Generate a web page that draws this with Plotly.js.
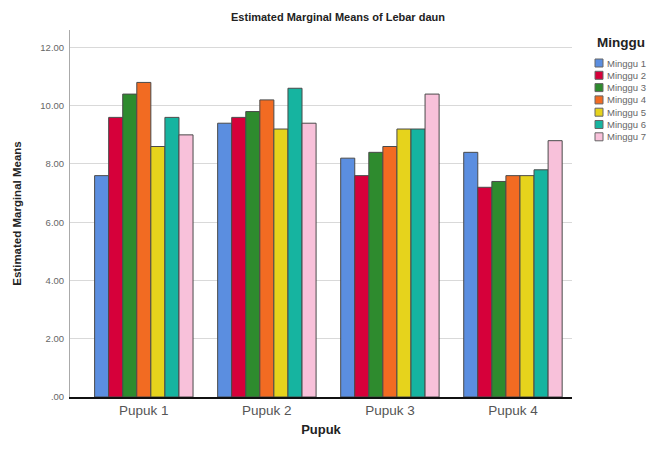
<!DOCTYPE html>
<html>
<head>
<meta charset="utf-8">
<script src="https://cdn.plot.ly/plotly-3.0.1.min.js"></script>
<style>html,body{margin:0;padding:0;background:#fff;}#chart{width:654px;height:449px;}</style>
</head>
<body>
<div id="chart"></div>
<script>
var categories = ["Pupuk 1", "Pupuk 2", "Pupuk 3", "Pupuk 4"];
var seriesNames = ["Minggu 1", "Minggu 2", "Minggu 3", "Minggu 4", "Minggu 5", "Minggu 6", "Minggu 7"];
var minggu1 = [7.6, 9.4, 8.2, 8.4];
var minggu2 = [9.6, 9.6, 7.6, 7.2];
var minggu3 = [10.4, 9.8, 8.4, 7.4];
var minggu4 = [10.8, 10.2, 8.6, 7.6];
var minggu5 = [8.6, 9.2, 9.2, 7.6];
var minggu6 = [9.6, 10.6, 9.2, 7.8];
var minggu7 = [9.0, 9.4, 10.4, 8.8];
var tickValues = [0, 2, 4, 6, 8, 10, 12];
var tickLabels = [".00", "2.00", "4.00", "6.00", "8.00", "10.00", "12.00"];
var legendTitle = "Minggu";

var seriesValues = [minggu1, minggu2, minggu3, minggu4, minggu5, minggu6, minggu7];
var colors = ["#5b8ee0", "#d6003a", "#2e8b2e", "#f26b22", "#e6d31c", "#16b4a0", "#f8c1da"];

// plot-area geometry (pixels)
var W = 654, H = 449, L = 70, R = 82, T = 30, B = 52;
var PW = W - L - R, PH = H - T - B;
function px2x(px) { return (px - L) / PW; }
function py2y(py) { return (H - B - py) / PH; }

var data = seriesValues.map(function(v, i) {
  return {
    type: "bar",
    name: seriesNames[i],
    x: categories,
    y: v,
    marker: {color: colors[i], line: {color: "#4a4a4a", width: 1}},
    hoverinfo: "x+y+name",
    showlegend: false
  };
});

// hand-drawn legend (compact, like the reference)
var shapes = [];
var annotations = [];
annotations.push({
  xref: "paper", yref: "paper", x: px2x(621), y: py2y(43),
  xanchor: "center", yanchor: "middle", showarrow: false,
  text: "<b>" + legendTitle + "</b>", font: {size: 13.5, color: "#222"}
});
seriesNames.forEach(function(name, i) {
  var cy = 63 + i * 12.3;
  shapes.push({
    type: "rect", xref: "paper", yref: "paper",
    x0: px2x(595), x1: px2x(603), y0: py2y(cy + 4), y1: py2y(cy - 4),
    fillcolor: colors[i], line: {color: "#666", width: 1}
  });
  annotations.push({
    xref: "paper", yref: "paper", x: px2x(605), y: py2y(cy),
    xanchor: "left", yanchor: "middle", showarrow: false,
    text: name, font: {size: 9.5, color: "#666"}
  });
});

var layout = {
  width: W,
  height: H,
  margin: {l: L, r: R, t: T, b: B, autoexpand: false},
  paper_bgcolor: "#ffffff",
  plot_bgcolor: "#ffffff",
  font: {family: "Arial, Liberation Sans, sans-serif", color: "#333"},
  title: {
    text: "<b>Estimated Marginal Means of Lebar daun</b>",
    font: {size: 11, color: "#222"},
    xref: "paper", x: px2x(338), xanchor: "center",
    yref: "container", y: 1 - 17 / H, yanchor: "middle"
  },
  barmode: "group",
  bargap: 0.2,
  bargroupgap: 0,
  xaxis: {
    type: "category",
    range: [-0.6, 3.48],
    showgrid: false,
    showline: true,
    linecolor: "#111",
    linewidth: 2,
    ticks: "",
    tickfont: {size: 13.5, color: "#555"},
    title: {text: "<b>Pupuk</b>", font: {size: 13, color: "#222"}, standoff: 8},
    zeroline: false,
    automargin: false,
    fixedrange: true
  },
  yaxis: {
    range: [0, 12.6],
    tickvals: tickValues,
    ticktext: tickLabels,
    tickfont: {size: 9.5, color: "#666"},
    ticklabelstandoff: 3,
    showgrid: true,
    gridcolor: "#d9d9d9",
    gridwidth: 1,
    showline: true,
    linecolor: "#aaa",
    linewidth: 1,
    zeroline: false,
    ticks: "",
    title: {text: "<b>Estimated Marginal Means</b>", font: {size: 11.5, color: "#222"}, standoff: 16},
    automargin: false,
    fixedrange: true
  },
  showlegend: false,
  shapes: shapes,
  annotations: annotations
};

Plotly.newPlot("chart", data, layout, {displayModeBar: false, staticPlot: true});
</script>
</body>
</html>
